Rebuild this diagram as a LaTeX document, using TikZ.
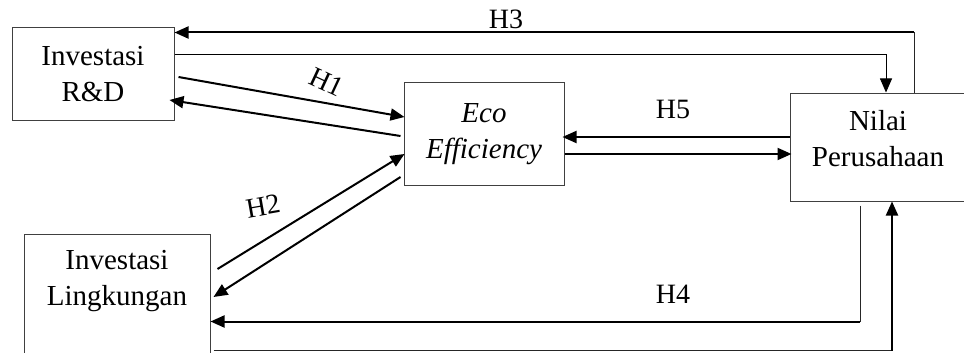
\documentclass[tikz,border=0pt]{standalone}
\usepackage{fontspec}
\setmainfont{Liberation Serif}
\usetikzlibrary{arrows.meta,calc}

\tikzset{
  box/.style={draw=black!75, line width=1pt, rectangle, inner sep=0pt},
  boxtext/.style={align=center, font=\fontsize{29}{36}\selectfont, inner sep=0pt},
  hlabel/.style={font=\fontsize{28}{32}\selectfont, inner sep=0pt},
  tip/.style={-{Triangle[length=14pt,width=12pt]}},
  link/.style={line width=2pt, tip},
  thinlink/.style={line width=0.9pt, tip},
  leg/.style={line width=1pt, black!85},
}

\begin{document}
\begin{tikzpicture}[x=1pt,y=-1pt]
  \useasboundingbox (0,0) rectangle (964,353);
  \clip (0,0) rectangle (964,353);

  % boxes
  \node[box, boxtext, minimum width=162pt, minimum height=92pt] (rd) at (93,74) {Investasi\\R\&D};
  \node[box, boxtext, minimum width=160pt, minimum height=102pt] (eco) at (484,134) {\itshape Eco\\\itshape Efficiency};
  \node[box, minimum width=176pt, minimum height=108pt] (nilai) at (878,147) {};
  \node[boxtext] (nilaitxt) at (878,139) {Nilai\\Perusahaan};
  \node[box, minimum width=186pt, minimum height=146pt] (ling) at (117,307) {};
  \node[boxtext] (lingtxt) at (117,281.5) {Investasi\\Lingkungan};

  % corners of the elbow connectors
  \coordinate (c3) at ($(nilai.north)+(36,-60)$);
  \coordinate (c4) at ($(nilai.south)+(-18,120)$);
  \coordinate (cb) at ($(nilai.south)+(14,149)$);

  % H3 and its return line
  \draw[leg] ($(nilai.north)+(36,0)$) -- (c3);
  \draw[link] (c3) -- (c3 -| rd.east);
  \draw[thinlink] ($(rd.east)+(0,-20)$) -| ($(nilai.north)+(8,0)$);

  % H1
  \draw[link] ($(rd.east)+(4,3)$) -- ($(eco.west)+(1,-17)$);
  \draw[link] ($(eco.west)+(-3,2)$) -- ($(rd.east)+(-5,26)$);

  % H5
  \draw[link] ($(nilai.west)+(0,-10)$) -- ($(eco.east)+(-2,3)$);
  \draw[link] ($(eco.east)+(0,20)$) -- ($(nilai.west)+(2,7)$);

  % H2
  \draw[link] ($(ling.east)+(7,-38)$) -- ($(eco.west)+(1,20)$);
  \draw[link] ($(eco.west)+(-3,43)$) -- ($(ling.east)+(3,-10)$);

  % H4 and the bottom return line
  \draw[leg] ($(nilai.south)+(-18,4)$) -- (c4);
  \draw[link] (c4) -- (c4 -| ling.east);
  \draw[leg, line width=1.3pt] ($(cb -| ling.east)+(3,0)$) -- (cb);
  \draw[link] (cb) -- ($(nilai.south)+(14,0)$);

  % labels
  \node[hlabel, rotate=-25] (h1) at (327,82) {H1};
  \node[hlabel, rotate=10] (h2) at (263,206) {H2};
  \node[hlabel] (h3) at (506,19) {H3};
  \node[hlabel] (h4) at (673,294) {H4};
  \node[hlabel] (h5) at (673,109) {H5};
\end{tikzpicture}
\end{document}
